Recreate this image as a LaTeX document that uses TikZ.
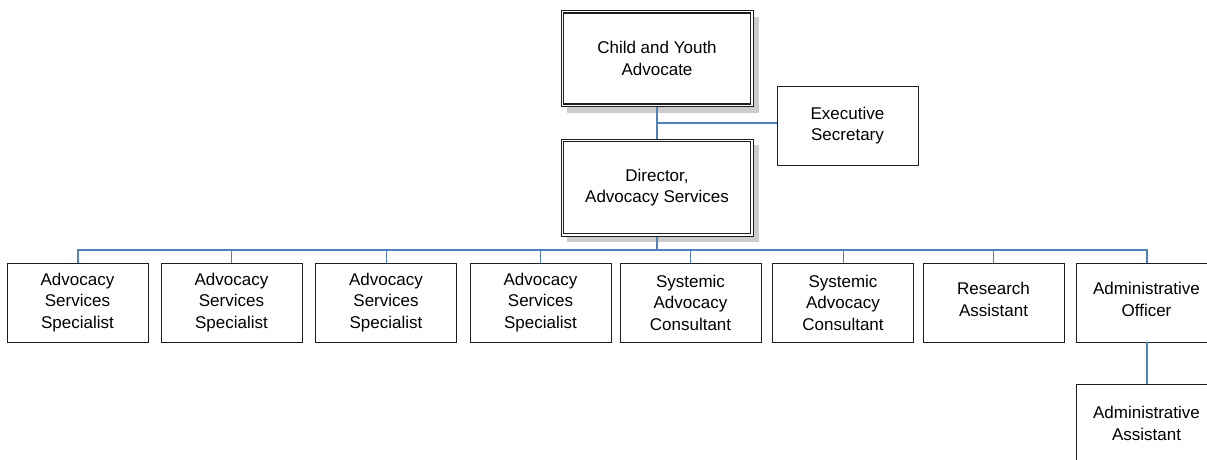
\documentclass[tikz,border=0pt]{standalone}
\usepackage{fontspec}
\setmainfont{Liberation Sans}
\definecolor{linkblue}{RGB}{79,129,189}
\definecolor{shadowgray}{RGB}{204,204,204}
\definecolor{boxline}{RGB}{30,30,30}
% extra depth under the last line lifts a two-line label a little
\newcommand{\liftlabel}{\rule[-6pt]{0pt}{0pt}}
\begin{document}
\begin{tikzpicture}[x=1pt,y=-1pt,
  every node/.style={font=\fontsize{17}{21.5}\selectfont, align=center, inner sep=0pt},
  post/.style={draw=boxline, line width=0.9pt, fill=white, minimum width=141pt, minimum height=79pt},
  lead/.style={draw=boxline, line width=1pt, fill=white, minimum width=192pt, minimum height=96pt},
  inner rim/.style={draw=boxline, line width=1.6pt},
  bus/.style={draw=linkblue, line width=2pt},
  drop/.style={draw=linkblue, line width=1pt}]
\useasboundingbox (0,0) rectangle (1207,459);
\clip (0,0) rectangle (1207,459);

% shadows of the two leading posts
\fill[shadowgray] (567,16.5) rectangle (759,112.5);
\fill[shadowgray] (567,145) rectangle (759,242);

% leading posts
\node[lead] (cya) at (657,58.5) {Child and Youth\\Advocate};
\node[lead, minimum height=97pt] (dir) at (657,187.5) {Director,\\Advocacy Services};
\draw[inner rim] ([shift={(3,3)}]cya.north west) rectangle ([shift={(-3,-3)}]cya.south east);
\draw[inner rim] ([shift={(3,3)}]dir.north west) rectangle ([shift={(-3,-3)}]dir.south east);

\node[post] (exec) at (847.5,125.5) {Executive\\Secretary};

% staff row
\node[post] (s1) at (77.5,302.5)  {Advocacy\\Services\\Specialist};
\node[post] (s2) at (231.5,302.5) {Advocacy\\Services\\Specialist};
\node[post] (s3) at (386,302.5)   {Advocacy\\Services\\Specialist};
\node[post] (s4) at (540.5,302.5) {Advocacy\\Services\\Specialist};
\node[post] (c1) at (690.5,302.5) {Systemic\\Advocacy\\Consultant};
\node[post] (c2) at (843,302.5)   {Systemic\\Advocacy\\Consultant};
\node[post] (ra) at (993.5,302.5) {Research\\Assistant\liftlabel};
\node[post] (ao) at (1146.5,302.5) {Administrative\\Officer\liftlabel};
\node[post] (aa) at (1146.5,423.5) {Administrative\\Assistant};

% links
\coordinate (j1) at (657,123);
\coordinate (busy) at (0,250);
\draw[drop, line width=1.2pt] (cya.south) -- (dir.north);
\draw[bus] (j1) -- (j1 -| exec.west);
\draw[drop, line width=1.2pt] (dir.south) -- (dir.south |- busy);
\draw[bus] (s1.north) -- (s1.north |- busy) -- (ao.north |- busy) -- (ao.north);
\foreach \n in {s2,s3,s4,c1,c2,ra}
  \draw[drop] (\n.north) -- (\n.north |- busy);
\draw[bus] (ao.south) -- (aa.north);
\end{tikzpicture}
\end{document}
